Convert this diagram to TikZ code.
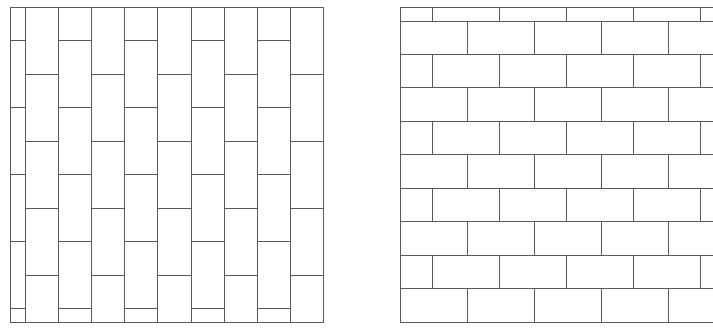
\documentclass[tikz,border=0pt]{standalone}
\begin{document}
\begin{tikzpicture}[x=1pt,y=-1pt,
  joint/.style={draw=black!65,line width=0.9pt},
  edge/.style={draw=black!65,line width=1pt}]
\useasboundingbox (0,0) rectangle (713,330);
% ---- left panel: vertical stack bond ----
\draw[edge] (10,7) rectangle (323.8,322);
\foreach \k in {0,...,8}{
  \draw[joint] ({25+33.2*\k},7) -- ({25+33.2*\k},322);
}
% column 0 (narrow)
\foreach \y in {40.7,107.7,174.7,241.7,308.7}{
  \draw[joint] (10,\y) -- (25,\y);
}
\foreach \i in {1,...,9}{
  \pgfmathsetmacro{\xa}{25+33.2*(\i-1)}
  \pgfmathsetmacro{\xb}{25+33.2*\i}
  \pgfmathtruncatemacro{\pty}{mod(\i,2)}
  \ifnum\pty=1
    \foreach \y in {74.2,141.2,208.2,275.2}{\draw[joint] (\xa,\y) -- (\xb,\y);}
  \else
    \foreach \y in {40.7,107.7,174.7,241.7,308.7}{\draw[joint] (\xa,\y) -- (\xb,\y);}
  \fi
}
% ---- right panel: running bond ----
\draw[edge] (713,7) -- (400,7) -- (400,322) -- (713,322);
\foreach \r in {0,...,8}{
  \draw[joint] (400,{21+33.45*\r}) -- (713,{21+33.45*\r});
}
% row 0 (thin top row)
\foreach \x in {432,499,566,633,700}{\draw[joint] (\x,7) -- (\x,21);}
\foreach \r in {1,...,9}{
  \pgfmathsetmacro{\ya}{21+33.45*(\r-1)}
  \pgfmathsetmacro{\yb}{21+33.45*\r}
  \pgfmathtruncatemacro{\pty}{mod(\r,2)}
  \ifnum\pty=1
    \foreach \x in {467,534,601,668}{\draw[joint] (\x,\ya) -- (\x,\yb);}
  \else
    \foreach \x in {432,499,566,633,700}{\draw[joint] (\x,\ya) -- (\x,\yb);}
  \fi
}
\end{tikzpicture}
\end{document}
